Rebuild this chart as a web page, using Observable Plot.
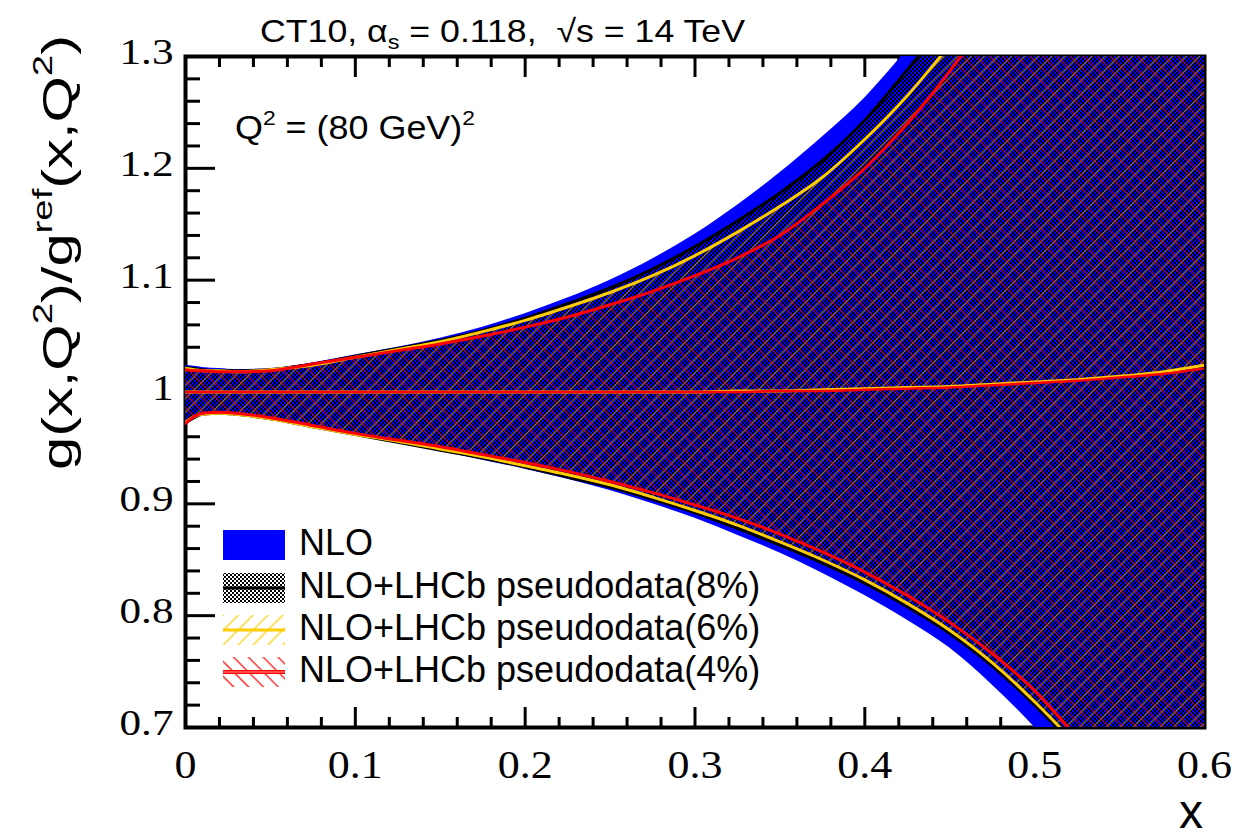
<!DOCTYPE html>
<html><head><meta charset="utf-8">
<script src="https://cdn.jsdelivr.net/npm/d3@7"></script>
<script src="https://cdn.jsdelivr.net/npm/@observablehq/plot@0.6"></script>
<style>
html,body{margin:0;padding:0;background:#fff;}
#chart{position:relative;width:1234px;height:840px;overflow:hidden;}
</style></head><body><div id="chart"></div>
<script>
// ---- data ----
const xs = [0, 0.005, 0.01, 0.02, 0.03, 0.05, 0.075, 0.1, 0.125, 0.15, 0.175, 0.2, 0.225, 0.25, 0.275, 0.3, 0.325, 0.35, 0.375, 0.4, 0.425, 0.45, 0.475, 0.5, 0.525, 0.55, 0.575, 0.6];

const nloHi = [1.024, 1.023, 1.022, 1.021, 1.020, 1.021, 1.026, 1.033, 1.040, 1.048, 1.058, 1.070, 1.084, 1.100, 1.119, 1.141, 1.167, 1.196, 1.228, 1.263, 1.306, 1.35, 1.40, 1.46, 1.52, 1.59, 1.66, 1.74];
const nloLo = [0.971, 0.976, 0.979, 0.980, 0.979, 0.975, 0.968, 0.961, 0.954, 0.947, 0.939, 0.931, 0.922, 0.912, 0.900, 0.887, 0.872, 0.856, 0.838, 0.818, 0.796, 0.771, 0.738, 0.700, 0.655, 0.600, 0.540, 0.480];

const p8Hi = [1.022, 1.021, 1.020, 1.019, 1.019, 1.020, 1.025, 1.032, 1.039, 1.046, 1.055, 1.066, 1.079, 1.093, 1.110, 1.130, 1.153, 1.178, 1.207, 1.243, 1.288, 1.335, 1.38, 1.43, 1.49, 1.55, 1.62, 1.69];
const p8Lo = [0.972, 0.977, 0.980, 0.981, 0.980, 0.976, 0.969, 0.962, 0.955, 0.948, 0.941, 0.933, 0.924, 0.915, 0.904, 0.892, 0.878, 0.863, 0.847, 0.829, 0.808, 0.784, 0.755, 0.720, 0.680, 0.630, 0.570, 0.510];

const p6Hi = [1.021, 1.020, 1.019, 1.019, 1.018, 1.020, 1.024, 1.031, 1.038, 1.045, 1.054, 1.064, 1.076, 1.089, 1.104, 1.122, 1.143, 1.166, 1.192, 1.226, 1.265, 1.31, 1.355, 1.40, 1.45, 1.51, 1.57, 1.64];
const p6Lo = [0.973, 0.978, 0.980, 0.981, 0.980, 0.976, 0.969, 0.962, 0.956, 0.949, 0.942, 0.934, 0.926, 0.917, 0.906, 0.894, 0.881, 0.866, 0.850, 0.832, 0.811, 0.787, 0.758, 0.723, 0.683, 0.634, 0.575, 0.515];

const p4Hi = [1.020, 1.019, 1.019, 1.018, 1.018, 1.019, 1.025, 1.031, 1.037, 1.043, 1.050, 1.058, 1.067, 1.078, 1.090, 1.104, 1.120, 1.140, 1.168, 1.200, 1.240, 1.287, 1.34, 1.40, 1.46, 1.53, 1.60, 1.68];
const p4Lo = [0.972, 0.978, 0.981, 0.982, 0.981, 0.977, 0.970, 0.963, 0.957, 0.951, 0.944, 0.937, 0.929, 0.920, 0.910, 0.899, 0.887, 0.873, 0.857, 0.839, 0.818, 0.794, 0.766, 0.733, 0.690, 0.640, 0.580, 0.520];

const center6 = [1.0, 1.0, 1.0, 1.0, 1.0, 1.0, 1.0, 1.0, 1.0, 1.0, 1.0, 1.0, 1.0, 1.0, 1.0, 1.0, 1.001, 1.001, 1.002, 1.003, 1.004, 1.005, 1.007, 1.009, 1.011, 1.014, 1.018, 1.024];
const center4 = [1.0, 1.0, 1.0, 1.0, 1.0, 1.0, 1.0, 1.0, 1.0, 1.0, 1.0, 1.0, 1.0, 1.0, 1.0, 1.0, 1.0, 1.001, 1.001, 1.002, 1.003, 1.004, 1.006, 1.008, 1.010, 1.013, 1.016, 1.021];

const xMajor = [0, 0.1, 0.2, 0.3, 0.4, 0.5, 0.6];
const yMajor = [0.7, 0.8, 0.9, 1, 1.1, 1.2, 1.3];
const xMinor = [0.02, 0.04, 0.06, 0.08, 0.12, 0.14, 0.16, 0.18, 0.22, 0.24, 0.26, 0.28, 0.32, 0.34, 0.36, 0.38, 0.42, 0.44, 0.46, 0.48, 0.52, 0.54, 0.56, 0.58];
const yMinor = [0.72, 0.74, 0.76, 0.78, 0.82, 0.84, 0.86, 0.88, 0.92, 0.94, 0.96, 0.98, 1.02, 1.04, 1.06, 1.08, 1.12, 1.14, 1.16, 1.18, 1.22, 1.24, 1.26, 1.28];

const legendLabels = ["NLO", "NLO+LHCb pseudodata(8%)", "NLO+LHCb pseudodata(6%)", "NLO+LHCb pseudodata(4%)"];

// ---- chart ----
const curve = "monotone-x";
const BLUE = "#0000ff", YEL = "#ffcc00", RED = "#ff0000";
const SERIF = "Liberation Serif, Times New Roman, serif";
const SANS = "Liberation Sans, Arial, sans-serif";
const tk = {fill: "none", stroke: "black", strokeWidth: 3, label: null};

const chart = Plot.plot({
  width: 1234, height: 840,
  marginLeft: 185, marginRight: 30, marginTop: 56, marginBottom: 113,
  x: {domain: [0, 0.6]},
  y: {domain: [0.7, 1.3]},
  style: {background: "white", fontFamily: SANS, color: "black", overflow: "visible"},
  marks: [
    Plot.frame({stroke: "black", strokeWidth: 4}),
    Plot.axisX(xMinor, {anchor: "bottom", tickSize: 10, dy: -10, ...tk}),
    Plot.axisX(xMajor, {anchor: "bottom", tickSize: 20, dy: -20, ...tk}),
    Plot.axisX(xMinor, {anchor: "top", tickSize: 10, dy: 10, ...tk}),
    Plot.axisX(xMajor, {anchor: "top", tickSize: 20, dy: 20, ...tk}),
    Plot.axisY(yMinor, {anchor: "left", tickSize: 15, dx: 15, ...tk}),
    Plot.axisY(yMajor, {anchor: "left", tickSize: 30, dx: 30, ...tk}),
    Plot.axisY(yMinor, {anchor: "right", tickSize: 15, dx: -15, ...tk}),
    Plot.axisY(yMajor, {anchor: "right", tickSize: 30, dx: -30, ...tk}),
    // bands
    Plot.areaY(xs, {x: xs, y1: nloLo, y2: nloHi, fill: BLUE, clip: true, curve}),
    Plot.areaY(xs, {x: xs, y1: p8Lo, y2: p8Hi, fill: "url(#chk)", clip: true, curve}),
    Plot.areaY(xs, {x: xs, y1: p6Lo, y2: p6Hi, fill: "url(#hatchY)", clip: true, curve}),
    Plot.areaY(xs, {x: xs, y1: p4Lo, y2: p4Hi, fill: "url(#hatchR)", clip: true, curve}),
    // edges
    Plot.line(xs, {x: xs, y: p8Hi, stroke: "black", strokeWidth: 3, clip: true, curve}),
    Plot.line(xs, {x: xs, y: p8Lo, stroke: "black", strokeWidth: 3, clip: true, curve}),
    Plot.line(xs, {x: xs, y: p6Hi, stroke: YEL, strokeWidth: 3, clip: true, curve}),
    Plot.line(xs, {x: xs, y: p6Lo, stroke: YEL, strokeWidth: 3, clip: true, curve}),
    Plot.line(xs, {x: xs, y: center6, stroke: YEL, strokeWidth: 3, clip: true, curve}),
    Plot.line(xs, {x: xs, y: p4Hi, stroke: RED, strokeWidth: 3, clip: true, curve}),
    Plot.line(xs, {x: xs, y: p4Lo, stroke: RED, strokeWidth: 3, clip: true, curve}),
    Plot.line(xs, {x: xs, y: center4, stroke: RED, strokeWidth: 2.5, clip: true, curve}),
    // tick labels
    Plot.axisX(xMajor, {anchor: "bottom", tickSize: 0, tickPadding: 22, stroke: "none", fill: "black",
      fontSize: 40, fontFamily: SERIF, tickFormat: d => String(d), label: null}),
    Plot.axisY(yMajor, {anchor: "left", tickSize: 0, tickPadding: 12, stroke: "none", fill: "black", dy: -4,
      fontSize: 36, fontFamily: SERIF, tickFormat: d => String(d), label: null})
  ]
});
document.getElementById("chart").appendChild(chart);

const s = d3.select(chart);
s.insert("defs", ":first-child").html(`
  <pattern id="chk" width="4" height="4" patternUnits="userSpaceOnUse">
    <rect width="2" height="2" fill="#000"/><rect x="2" y="2" width="2" height="2" fill="#000"/>
  </pattern>
  <pattern id="hatchY" width="9.5" height="9.5" patternUnits="userSpaceOnUse" patternTransform="rotate(45)">
    <line x1="4.5" y1="0" x2="4.5" y2="9.5" stroke="#d9a800" stroke-width="0.8"/>
  </pattern>
  <pattern id="hatchR" width="9.5" height="9.5" patternUnits="userSpaceOnUse" patternTransform="rotate(-45)">
    <line x1="4.5" y1="0" x2="4.5" y2="9.5" stroke="#f00000" stroke-width="0.8"/>
  </pattern>
  <pattern id="hatchYL" width="10.5" height="10.5" patternUnits="userSpaceOnUse" patternTransform="rotate(45)">
    <line x1="5" y1="0" x2="5" y2="10.5" stroke="${YEL}" stroke-width="1.2"/>
  </pattern>
  <pattern id="hatchRL" width="10.5" height="10.5" patternUnits="userSpaceOnUse" patternTransform="rotate(-45)">
    <line x1="5" y1="0" x2="5" y2="10.5" stroke="${RED}" stroke-width="1.2"/>
  </pattern>
`);

// widen the serif tick labels like the reference's font
s.selectAll('g[aria-label="y-axis tick label"] text').each(function() {
  const L = this.getComputedTextLength();
  this.setAttribute("textLength", L * 1.2);
  this.setAttribute("lengthAdjust", "spacingAndGlyphs");
});
s.selectAll('g[aria-label="x-axis tick label"] text').each(function() {
  const L = this.getComputedTextLength();
  this.setAttribute("textLength", L * 1.1);
  this.setAttribute("lengthAdjust", "spacingAndGlyphs");
});

// title
const title = s.append("text").attr("x", 260).attr("y", 42).attr("font-size", 32)
  .attr("text-anchor", "start").attr("font-family", SANS).attr("fill", "black")
  .attr("textLength", 485).attr("lengthAdjust", "spacingAndGlyphs");
title.append("tspan").text("CT10, α");
title.append("tspan").attr("font-size", 21).attr("dy", 7).text("s");
title.append("tspan").attr("dy", -7).text(" = 0.118,  √s = 14 TeV");

// Q^2 annotation
const q = s.append("text").attr("x", 235).attr("y", 139).attr("font-size", 33)
  .attr("text-anchor", "start").attr("font-family", SANS).attr("fill", "black")
  .attr("textLength", 240).attr("lengthAdjust", "spacingAndGlyphs");
q.append("tspan").text("Q");
q.append("tspan").attr("font-size", 21).attr("dy", -14).text("2");
q.append("tspan").attr("dy", 14).text(" = (80 GeV)");
q.append("tspan").attr("font-size", 21).attr("dy", -14).text("2");

// y-axis title
const yt = s.append("text").attr("transform", "translate(72,35) rotate(-90)")
  .attr("text-anchor", "end").attr("font-size", 42).attr("font-family", SANS).attr("fill", "black")
  .attr("textLength", 435).attr("lengthAdjust", "spacingAndGlyphs");
yt.append("tspan").text("g(x,Q");
yt.append("tspan").attr("font-size", 27).attr("dy", -20).text("2");
yt.append("tspan").attr("dy", 20).text(")/g");
yt.append("tspan").attr("font-size", 27).attr("dy", -20).text("ref");
yt.append("tspan").attr("dy", 20).text("(x,Q");
yt.append("tspan").attr("font-size", 27).attr("dy", -20).text("2");
yt.append("tspan").attr("dy", 20).text(")");

// x-axis title
s.append("text").attr("x", 1203).attr("y", 828).attr("text-anchor", "end")
  .attr("font-size", 48).attr("font-family", SANS).attr("fill", "black").text("x");

// legend
const lg = s.append("g");
const tops = [530, 573, 615, 657];
const bx = 223, bw = 62, bh = 30;
lg.append("rect").attr("x", bx).attr("y", tops[0]).attr("width", bw).attr("height", bh).attr("fill", BLUE);
lg.append("rect").attr("x", bx).attr("y", tops[1]).attr("width", bw).attr("height", bh).attr("fill", "url(#chk)");
lg.append("line").attr("x1", bx).attr("x2", bx + bw).attr("y1", tops[1] + bh / 2).attr("y2", tops[1] + bh / 2).attr("stroke", "black").attr("stroke-width", 3);
lg.append("rect").attr("x", bx).attr("y", tops[2]).attr("width", bw).attr("height", bh).attr("fill", "url(#hatchYL)");
lg.append("line").attr("x1", bx).attr("x2", bx + bw).attr("y1", tops[2] + bh / 2).attr("y2", tops[2] + bh / 2).attr("stroke", YEL).attr("stroke-width", 3);
lg.append("rect").attr("x", bx).attr("y", tops[3]).attr("width", bw).attr("height", bh).attr("fill", "url(#hatchRL)");
lg.append("line").attr("x1", bx).attr("x2", bx + bw).attr("y1", tops[3] + bh / 2).attr("y2", tops[3] + bh / 2).attr("stroke", RED).attr("stroke-width", 4);
lg.append("line").attr("x1", bx).attr("x2", bx + bw).attr("y1", tops[3] + bh / 2).attr("y2", tops[3] + bh / 2).attr("stroke", "#ff9a9a").attr("stroke-width", 1.2);
legendLabels.forEach((lab, i) => {
  lg.append("text").attr("x", 299).attr("y", tops[i] + 25).attr("font-size", 36)
    .attr("text-anchor", "start").attr("font-family", SANS).attr("fill", "black").text(lab);
});
</script>
</body></html>
